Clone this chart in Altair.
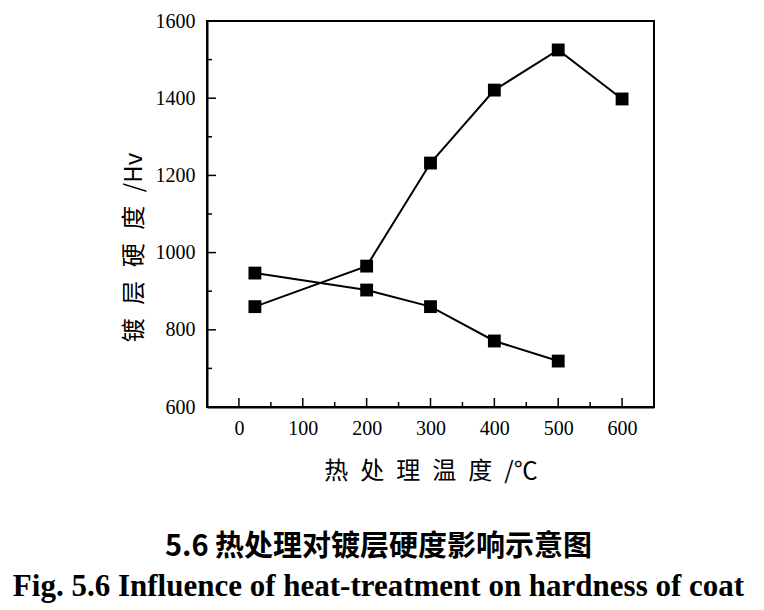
import altair as alt
import pandas as pd

# data
temps_a = [25, 200, 300, 400, 500, 600]
hard_a = [860, 965, 1232, 1421, 1525, 1398]
temps_b = [25, 200, 300, 400, 500]
hard_b = [947, 903, 860, 771, 719]

x_major = [0, 100, 200, 300, 400, 500, 600]
x_minor = [50, 150, 250, 350, 450, 550]
y_major = [600, 800, 1000, 1200, 1400, 1600]
y_minor = [700, 900, 1100, 1300, 1500]

x_title = "热\u2002处\u2002理\u2002温\u2002度\u2002/℃"
y_title = "镀\u2002\u200a层\u2002\u200a硬\u2002\u200a度\u2002\u200a/Hv"
cap_cn = "5.6 热处理对镀层硬度影响示意图"
cap_en = "Fig. 5.6 Influence of heat-treatment on hardness of coat"

W, H = 447, 386
xs = alt.Scale(domain=[-50, 650], nice=False, zero=False)
ys = alt.Scale(domain=[600, 1600], nice=False, zero=False)
x_axis = alt.Axis(values=x_major, format="d", title=x_title, labelPadding=11, titlePadding=21)
y_axis = alt.Axis(values=y_major, format="d", title=y_title, labelPadding=12, titlePadding=9,
                  titleY=226)

df = pd.DataFrame({
    "t": temps_a + temps_b,
    "h": hard_a + hard_b,
    "s": ["A"] * len(temps_a) + ["B"] * len(temps_b),
})

base = alt.Chart(df)
lines = base.mark_line(color="black", strokeWidth=2).encode(
    x=alt.X("t:Q", scale=xs, axis=x_axis),
    y=alt.Y("h:Q", scale=ys, axis=y_axis),
    detail="s:N",
)
points = base.mark_square(size=165, color="black", opacity=1).encode(
    x=alt.X("t:Q", scale=xs, axis=x_axis), y=alt.Y("h:Q", scale=ys, axis=y_axis)
)

def xticks(vals, length):
    return alt.Chart(pd.DataFrame({"v": vals})).mark_rule(color="black", strokeWidth=1.5).encode(
        x=alt.X("v:Q", scale=xs, axis=x_axis), y=alt.value(H), y2=alt.value(H - length)
    )

def yticks(vals, length):
    return alt.Chart(pd.DataFrame({"v": vals})).mark_rule(color="black", strokeWidth=1.5).encode(
        y=alt.Y("v:Q", scale=ys, axis=y_axis), x=alt.value(0), x2=alt.value(length)
    )

chart = alt.layer(
    lines, points,
    xticks(x_major, 9), xticks(x_minor, 5),
    yticks(y_major, 9), yticks(y_minor, 5),
).properties(
    width=W, height=H,
    autosize=alt.AutoSizeParams(type="none"),
    padding={"left": 199, "top": 13, "right": 100, "bottom": 202},
    title=alt.TitleParams(
        text=cap_cn, subtitle=cap_en, orient="bottom", anchor="middle", dx=-52,
        offset=50, font="Noto Sans CJK SC", fontSize=29, fontWeight="bold", color="black",
        subtitleFont="Liberation Serif", subtitleFontSize=31, subtitleFontWeight="bold",
        subtitleColor="black", subtitlePadding=10,
    ),
).configure_view(stroke="black", strokeWidth=2).configure_axis(
    domainColor="black", domainWidth=2, ticks=False, grid=False,
    labelFont="Liberation Serif", labelFontSize=20, labelColor="black",
    titleFont="Noto Sans CJK SC", titleFontSize=24, titleColor="black", titleFontWeight="normal",
)

chart.save("out.html", embed_options={"renderer": "svg", "actions": False})
